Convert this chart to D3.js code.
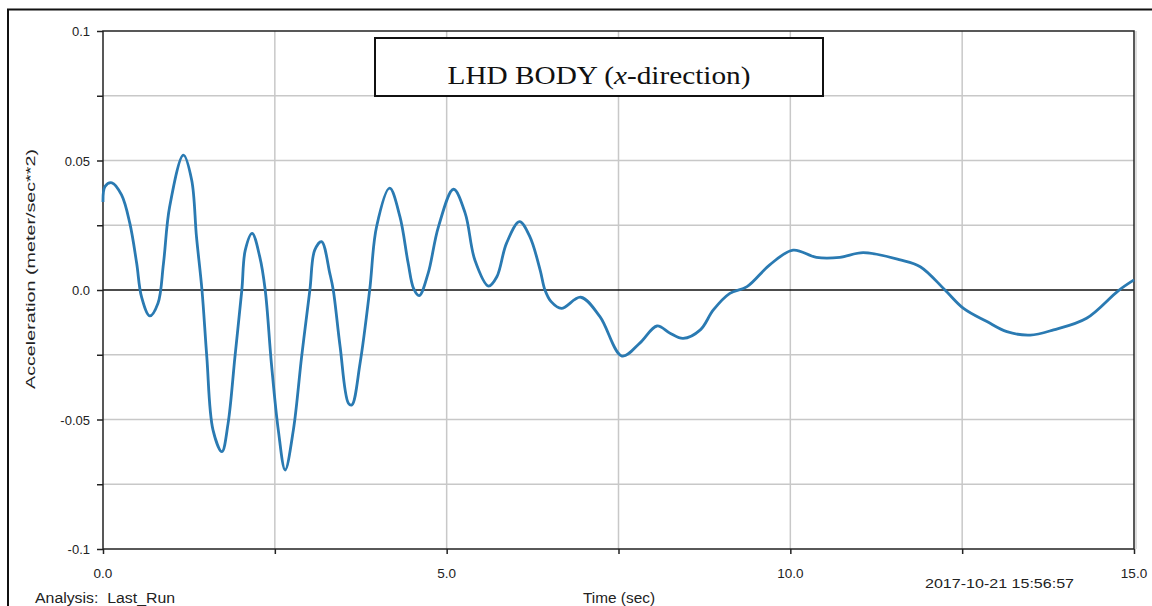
<!DOCTYPE html>
<html><head><meta charset="utf-8">
<script src="https://cdn.jsdelivr.net/npm/d3@7"></script>
<style>body{margin:0;background:#fff}svg{display:block}</style>
</head><body>
<svg id="c" width="1152" height="606"></svg>
<script>
const timeSec = [0,0.03,0.13,0.27,0.39,0.49,0.56,0.68,0.80,0.88,0.97,1.17,1.29,1.36,1.44,1.51,1.60,1.73,1.82,1.92,2.02,2.07,2.17,2.28,2.36,2.45,2.55,2.65,2.77,2.89,3.01,3.08,3.18,3.30,3.35,3.45,3.57,3.62,3.74,3.88,3.98,4.17,4.32,4.44,4.52,4.60,4.73,4.88,5.10,5.27,5.41,5.61,5.73,5.87,6.06,6.21,6.36,6.43,6.52,6.67,6.95,7.23,7.55,7.81,8.06,8.25,8.44,8.69,8.88,9.12,9.37,9.70,10.04,10.38,10.72,11.06,11.60,11.89,12.25,12.52,12.86,13.15,13.49,13.83,14.31,14.77,15.0];
const accel = [0.034,0.040,0.0414,0.0367,0.0258,0.0103,-0.0026,-0.0100,-0.0051,0.0103,0.0322,0.0521,0.0425,0.0206,0.0,-0.0257,-0.054,-0.0624,-0.0515,-0.0257,0.0,0.0154,0.0219,0.0129,0.0,-0.0283,-0.054,-0.0695,-0.054,-0.0257,0.0,0.0154,0.0187,0.0064,0.0,-0.0219,-0.0437,-0.0444,-0.0283,0.0,0.0244,0.0393,0.0283,0.0103,0.0005,-0.0022,0.0064,0.0244,0.0389,0.0296,0.0116,0.0015,0.0051,0.018,0.0264,0.0206,0.0077,0.0,-0.0045,-0.0071,-0.0028,-0.0103,-0.0255,-0.0205,-0.0139,-0.0167,-0.0187,-0.0154,-0.0077,-0.0013,0.0013,0.0097,0.0154,0.0126,0.0126,0.0144,0.0116,0.0090,0.0,-0.0071,-0.0122,-0.0161,-0.0174,-0.0154,-0.0109,-0.0003,0.0039];
const yTickLabels = ["-0.1","-0.05","0.0","0.05","0.1"];
const yTickValues = [-0.1,-0.05,0,0.05,0.1];
const yGridValues = [-0.075,-0.05,-0.025,0.025,0.05,0.075];
const xTickLabels = ["0.0","5.0","10.0","15.0"];
const xTickValues = [0,5,10,15];
const xGridValues = [2.5,5,7.5,10,12.5];
const yMinorValues = [-0.1,-0.075,-0.05,-0.025,0,0.025,0.05,0.075,0.1];
const xMinorValues = [0,2.5,5,7.5,10,12.5,15];

const svg = d3.select("#c");
const L=103, R=1134, T=31, B=549;
const x = d3.scaleLinear().domain([0,15]).range([L,R]);
const y = d3.scaleLinear().domain([-0.1,0.1]).range([B,T]);
const font = "Arial, 'Liberation Sans', sans-serif";

// outer frame
svg.append("path").attr("d","M8,606 V9.5 H1152").attr("fill","none").attr("stroke","#111").attr("stroke-width",2);

// grid
svg.append("g").selectAll("line").data(yGridValues).join("line")
  .attr("x1",L).attr("x2",R).attr("y1",d=>y(d)).attr("y2",d=>y(d))
  .attr("stroke","#c8c8c8").attr("stroke-width",1.5);
svg.append("g").selectAll("line").data(xGridValues).join("line")
  .attr("y1",T).attr("y2",B).attr("x1",d=>x(d)).attr("x2",d=>x(d))
  .attr("stroke","#c8c8c8").attr("stroke-width",1.5);

// zero line
svg.append("line").attr("x1",L).attr("x2",R).attr("y1",y(0)).attr("y2",y(0)).attr("stroke","#111").attr("stroke-width",1.5);

// axes via d3
const yAxis = d3.axisLeft(y).tickValues(yMinorValues).tickSize(6).tickFormat("");
svg.append("g").attr("transform",`translate(${L},0)`).call(yAxis)
  .call(g=>{g.select(".domain").remove(); g.selectAll("line").attr("stroke","#222").attr("stroke-width",1.5);});
const xAxis = d3.axisBottom(x).tickValues(xMinorValues).tickSize(5).tickFormat("");
svg.append("g").attr("transform",`translate(0,${B})`).call(xAxis)
  .call(g=>{g.select(".domain").remove(); g.selectAll("line").attr("stroke","#222").attr("stroke-width",1.5);});

// tick labels
svg.append("g").selectAll("text").data(yTickValues).join("text")
  .attr("x",90).attr("y",d=>y(d)+5).attr("text-anchor","end")
  .attr("font-family",font).attr("font-size",13).attr("fill","#222")
  .text((d,i)=>yTickLabels[i]);
svg.append("g").selectAll("text").data(xTickValues).join("text")
  .attr("x",d=>x(d)).attr("y",578).attr("text-anchor","middle")
  .attr("font-family",font).attr("font-size",13.5).attr("fill","#222")
  .text((d,i)=>xTickLabels[i]);

// plot border
svg.append("rect").attr("x",L).attr("y",T).attr("width",R-L).attr("height",B-T)
  .attr("fill","none").attr("stroke","#222").attr("stroke-width",1.5);
svg.append("line").attr("x1",R+2).attr("x2",R+2).attr("y1",T).attr("y2",B).attr("stroke","#bbb").attr("stroke-width",1);

// data line
const line = d3.line().x((d,i)=>x(timeSec[i])).y(d=>y(d)).curve(d3.curveCatmullRom.alpha(0.5));
svg.append("path").datum(accel).attr("d",line).attr("fill","none")
  .attr("stroke","#2a7ab2").attr("stroke-width",2.8).attr("stroke-linejoin","round");

// title box
svg.append("rect").attr("x",375).attr("y",38).attr("width",448).attr("height",58)
  .attr("fill","#fff").attr("stroke","#111").attr("stroke-width",2);
const tt = svg.append("text").attr("x",599).attr("y",84).attr("text-anchor","middle")
  .attr("font-family","'Liberation Serif','Times New Roman',serif").attr("font-size",26).attr("fill","#111")
  .attr("textLength",303).attr("lengthAdjust","spacingAndGlyphs");
tt.append("tspan").text("LHD BODY (");
tt.append("tspan").attr("font-style","italic").text("x");
tt.append("tspan").text("-direction)");

// axis titles
svg.append("text").attr("transform","translate(35,269) rotate(-90)").attr("text-anchor","middle")
  .attr("font-family",font).attr("font-size",13).attr("fill","#222")
  .attr("textLength",240).attr("lengthAdjust","spacingAndGlyphs").text("Acceleration (meter/sec**2)");
svg.append("text").attr("x",619).attr("y",603).attr("text-anchor","middle")
  .attr("font-family",font).attr("font-size",14).attr("fill","#222")
  .attr("textLength",72).attr("lengthAdjust","spacingAndGlyphs").text("Time (sec)");
svg.append("text").attr("x",35).attr("y",603)
  .attr("font-family",font).attr("font-size",14).attr("fill","#222")
  .attr("textLength",140).attr("lengthAdjust","spacingAndGlyphs").text("Analysis:  Last_Run").style("white-space","pre");
svg.append("text").attr("x",925).attr("y",588)
  .attr("font-family",font).attr("font-size",13.5).attr("fill","#222")
  .attr("textLength",149).attr("lengthAdjust","spacingAndGlyphs").text("2017-10-21 15:56:57");
</script>
</body></html>
